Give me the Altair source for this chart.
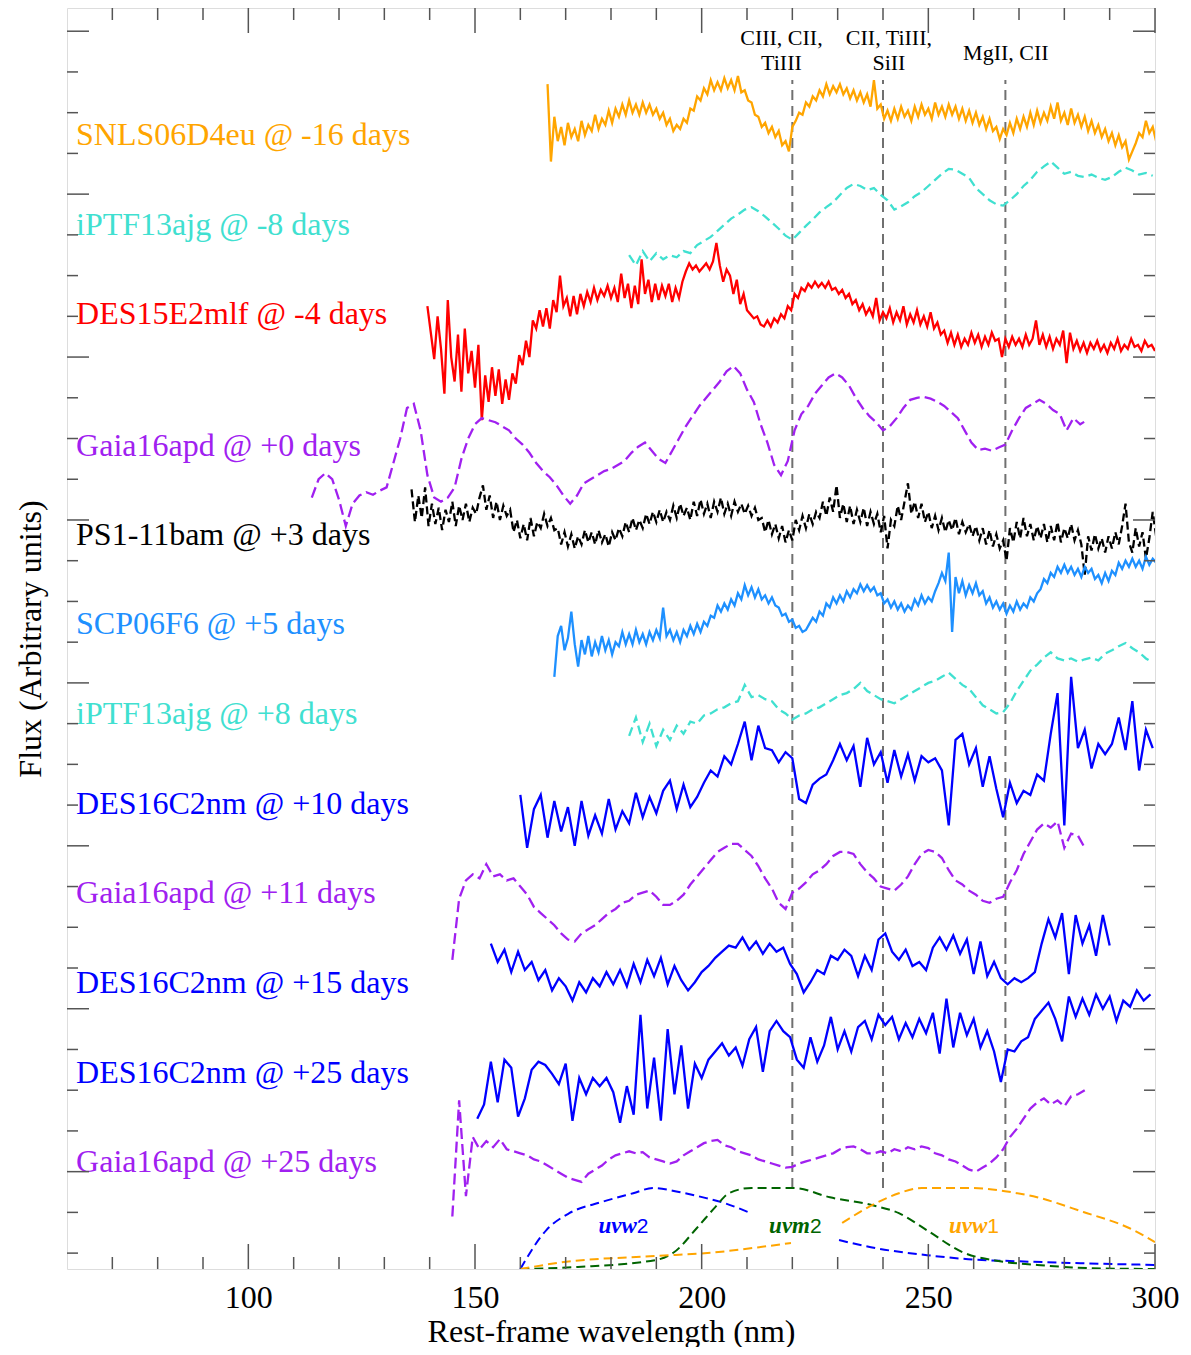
import altair as alt
import pandas as pd

# ---------------- axes ----------------
X_MIN, X_MAX = 60, 300
Y_MIN, Y_MAX = -0.39, 30.57
W, H = 1088, 1261
FONT = "Liberation Serif"

x_tick_labels = [100, 150, 200, 250, 300]
x_minor = [70, 80, 90, 110, 120, 130, 140, 160, 170, 180, 190, 210, 220, 230, 240, 260, 270, 280, 290]
x_major = [100, 150, 200, 250, 300]
y_major = [2, 6, 10, 14, 18, 22, 26, 30]
y_minor = [0, 1, 3, 4, 5, 7, 8, 9, 11, 12, 13, 15, 16, 17, 19, 20, 21, 23, 24, 25, 27, 28, 29]

# ---------------- spectra (flux in arbitrary units, offsets included) ----------------
snls_start, snls_step = 166.0, 0.75
snls_flux = [28.70, 26.80, 27.90, 27.30, 27.65, 27.20, 27.75, 27.40, 27.60, 27.30,
             27.80, 27.45, 27.70, 27.55, 27.95, 27.60, 27.85, 27.70, 28.05, 27.75,
             28.10, 27.90, 28.20, 27.95, 28.30, 28.00, 28.20, 27.95, 28.25, 28.00,
             28.20, 27.95, 28.10, 27.85, 28.00, 27.70, 27.85, 27.55, 27.70, 27.60,
             27.85, 27.75, 28.10, 28.05, 28.40, 28.30, 28.60, 28.45, 28.80, 28.55,
             28.75, 28.55, 28.85, 28.60, 28.80, 28.55, 28.90, 28.50, 28.55, 28.30,
             28.25, 27.95, 27.90, 27.65, 27.75, 27.50, 27.65, 27.40, 27.55, 27.20,
             27.30, 27.05, 27.65, 27.80, 28.00, 27.95, 28.25, 28.15, 28.40, 28.30,
             28.55, 28.40, 28.70, 28.45, 28.65, 28.50, 28.70, 28.45, 28.60, 28.35,
             28.55, 28.30, 28.50, 28.25, 28.45, 28.15, 28.80, 28.10, 28.20, 27.85,
             28.05, 27.80, 28.10, 27.85, 28.15, 27.90, 28.05, 27.80, 28.15, 27.90,
             28.20, 27.95, 28.10, 27.85, 28.25, 27.95, 28.15, 27.90, 28.20, 27.95,
             28.15, 27.85, 28.10, 27.80, 28.05, 27.75, 28.00, 27.70, 27.90, 27.60,
             27.85, 27.55, 27.65, 27.35, 27.60, 27.45, 27.75, 27.50, 27.85, 27.60,
             27.90, 27.65, 28.00, 27.70, 28.05, 27.75, 28.00, 27.80, 28.15, 27.85,
             28.25, 27.80, 28.00, 27.70, 28.10, 27.75, 27.95, 27.65, 27.90, 27.55,
             27.80, 27.50, 27.70, 27.40, 27.60, 27.30, 27.50, 27.20, 27.45, 27.15,
             27.30, 26.85, 27.05, 27.25, 27.50, 27.40, 27.80, 27.50, 27.65, 27.30]

iptf_m8_start, iptf_m8_step = 184.0, 1.5
iptf_m8_flux = [24.50, 24.25, 24.60, 24.35, 24.55, 24.40, 24.50, 24.45, 24.60, 24.55,
                24.75, 24.85, 24.95, 25.10, 25.25, 25.40, 25.50, 25.62, 25.68, 25.58,
                25.45, 25.30, 25.15, 24.98, 24.88, 25.05, 25.22, 25.38, 25.55, 25.68,
                25.80, 25.98, 26.15, 26.25, 26.20, 26.10, 26.15, 25.98, 25.85, 25.62,
                25.70, 25.80, 25.95, 26.05, 26.20, 26.35, 26.50, 26.62, 26.60, 26.50,
                26.40, 26.15, 26.00, 25.85, 25.75, 25.72, 25.85, 26.00, 26.20, 26.35,
                26.55, 26.68, 26.80, 26.65, 26.50, 26.55, 26.45, 26.42, 26.48, 26.40,
                26.35, 26.42, 26.55, 26.65, 26.58, 26.48, 26.52, 26.45]

des15_start, des15_step = 139.5, 0.75
des15_flux = [23.25, 22.60, 21.95, 23.00, 22.20, 21.10, 23.40, 22.00, 21.40, 22.55,
              21.15, 22.70, 21.60, 22.15, 21.25, 22.30, 20.45, 21.55, 20.90, 21.75,
              21.05, 21.70, 20.85, 21.45, 20.95, 21.60, 21.35, 22.05, 21.80, 22.40,
              22.00, 22.90, 22.70, 23.15, 22.75, 23.20, 22.70, 23.40, 23.10, 24.00,
              23.25, 23.45, 23.00, 23.50, 23.05, 23.55, 23.25, 23.60, 23.35, 23.70,
              23.40, 23.65, 23.50, 23.75, 23.45, 23.70, 23.35, 24.05, 23.45, 23.80,
              23.20, 23.75, 23.30, 24.40, 23.55, 23.90, 23.35, 23.80, 23.40, 23.75,
              23.50, 23.80, 23.35, 23.70, 23.45, 23.85, 24.10, 24.30, 24.15, 24.25,
              24.10, 24.20, 24.30, 24.15, 24.35, 24.80, 24.25, 23.85, 24.15, 24.00,
              23.55, 23.90, 23.30, 23.55, 23.15, 23.05, 22.95, 23.00, 22.80, 22.75,
              22.90, 22.75, 22.95, 22.85, 23.05, 22.95, 23.25, 23.15, 23.55, 23.45,
              23.70, 23.62, 23.80, 23.70, 23.85, 23.72, 23.82, 23.70, 23.85, 23.65,
              23.70, 23.55, 23.65, 23.45, 23.55, 23.30, 23.40, 23.15, 23.30, 23.05,
              23.20, 23.00, 23.45, 22.90, 23.10, 22.95, 23.20, 22.85, 23.10, 22.90,
              23.25, 22.80, 23.05, 22.85, 23.15, 22.80, 23.00, 22.75, 23.10, 22.70,
              22.85, 22.55, 22.65, 22.35, 22.60, 22.30, 22.55, 22.25, 22.45, 22.30,
              22.60, 22.35, 22.55, 22.25, 22.50, 22.30, 22.60, 22.40, 22.45, 22.00,
              22.45, 22.25, 22.50, 22.30, 22.45, 22.25, 22.55, 22.30, 22.45, 22.90,
              22.30, 22.55, 22.25, 22.50, 22.20, 22.45, 22.30, 22.65, 21.85, 22.60,
              22.20, 22.40, 22.15, 22.35, 22.10, 22.35, 22.20, 22.40, 22.15, 22.30,
              22.10, 22.35, 22.20, 22.45, 22.15, 22.30, 22.20, 22.45, 22.25, 22.30,
              22.15, 22.40, 22.25, 22.30, 22.15]

gaia0_start, gaia0_step = 114.0, 1.5
gaia0_flux = [18.55, 19.00, 19.15, 19.00, 18.50, 17.85, 18.40, 18.60, 18.68, 18.62,
              18.72, 18.80, 19.40, 20.00, 20.75, 20.85, 20.20, 19.10, 18.55, 18.45,
              18.55, 18.80, 19.50, 20.00, 20.35, 20.50, 20.45, 20.40, 20.30, 20.20,
              20.00, 19.85, 19.65, 19.40, 19.20, 19.05, 18.85, 18.60, 18.40, 18.60,
              18.90, 19.00, 19.10, 19.20, 19.25, 19.35, 19.45, 19.65, 19.80, 19.90,
              19.70, 19.50, 19.40, 19.70, 20.00, 20.30, 20.55, 20.80, 21.00, 21.20,
              21.40, 21.65, 21.78, 21.60, 21.20, 20.90, 20.35, 19.90, 19.35, 19.10,
              19.45, 20.20, 20.60, 20.80, 21.10, 21.30, 21.50, 21.60, 21.50, 21.30,
              21.00, 20.75, 20.55, 20.40, 20.20, 20.30, 20.50, 20.75, 20.95, 21.00,
              21.02, 20.98, 20.90, 20.80, 20.65, 20.50, 20.20, 19.90, 19.72, 19.75,
              19.70, 19.78, 19.85, 20.20, 20.50, 20.75, 20.85, 20.95, 20.85, 20.70,
              20.60, 20.20, 20.50, 20.35, 20.45]

ps1_start, ps1_step = 136.0, 0.75
ps1_flux = [18.75, 17.95, 18.60, 18.05, 18.80, 17.85, 18.40, 17.90, 18.30, 17.75,
            18.25, 17.95, 18.45, 17.85, 18.35, 18.00, 18.40, 17.95, 18.30, 18.15,
            18.55, 18.85, 18.25, 18.60, 18.05, 18.45, 18.00, 18.35, 18.10, 18.25,
            17.70, 18.00, 17.55, 17.90, 17.50, 18.05, 17.60, 17.95, 17.80, 18.15,
            17.85, 18.05, 17.75, 17.80, 17.40, 17.70, 17.35, 17.65, 17.30, 17.60,
            17.40, 17.75, 17.45, 17.70, 17.40, 17.75, 17.45, 17.65, 17.35, 17.70,
            17.50, 17.80, 17.60, 17.95, 17.70, 18.05, 17.75, 18.00, 17.80, 18.15,
            17.90, 18.20, 17.95, 18.25, 17.95, 18.20, 18.00, 18.35, 18.05, 18.40,
            18.10, 18.30, 18.00, 18.45, 18.10, 18.50, 18.15, 18.40, 18.05, 18.45,
            18.20, 18.55, 18.15, 18.40, 18.10, 18.45, 18.20, 18.40, 18.15, 18.35,
            18.10, 18.30, 18.00, 18.05, 17.70, 18.00, 17.65, 17.90, 17.55, 17.85,
            17.45, 17.75, 17.50, 18.00, 17.75, 18.10, 17.80, 18.15, 17.90, 18.20,
            18.05, 18.45, 18.10, 18.55, 18.20, 18.85, 18.05, 18.40, 17.95, 18.35,
            17.90, 18.25, 17.95, 18.30, 17.85, 18.20, 17.90, 18.15, 17.70, 18.10,
            17.30, 18.00, 17.85, 18.35, 18.00, 18.45, 18.90, 18.15, 18.45, 18.05,
            18.40, 17.95, 18.20, 17.80, 18.10, 17.75, 18.05, 17.70, 18.00, 17.75,
            18.05, 17.65, 17.95, 17.70, 17.90, 17.60, 17.85, 17.50, 17.80, 17.40,
            17.75, 17.35, 17.65, 17.30, 17.50, 17.00, 17.80, 17.45, 17.95, 17.55,
            18.05, 17.60, 17.90, 17.50, 17.85, 17.55, 17.90, 17.45, 17.85, 17.50,
            17.95, 17.45, 17.80, 17.55, 17.90, 17.50, 17.75, 17.40, 16.65, 17.60,
            17.25, 17.65, 17.30, 17.55, 17.20, 17.60, 17.30, 17.70, 17.40, 17.85,
            18.40, 17.45, 17.20, 17.80, 17.35, 17.70, 17.05, 17.55, 18.20, 17.60]

scp_start, scp_step = 167.5, 0.75
scp_flux = [14.15, 15.15, 15.40, 14.80, 15.10, 15.75, 14.95, 14.40, 15.05, 14.70,
            15.15, 14.65, 15.00, 14.75, 15.15, 14.80, 15.05, 14.70, 15.00, 14.90,
            15.25, 14.95, 15.20, 14.95, 15.30, 15.00, 15.20, 14.95, 15.25, 15.05,
            15.30, 15.10, 15.85, 15.15, 15.30, 15.05, 15.25, 15.00, 15.30, 15.15,
            15.40, 15.20, 15.45, 15.25, 15.50, 15.40, 15.65, 15.60, 15.90, 15.75,
            15.95, 15.80, 16.05, 15.90, 16.20, 16.05, 16.40, 16.15, 16.35, 16.10,
            16.30, 16.05, 16.15, 15.95, 16.10, 15.90, 15.85, 15.65, 15.70, 15.50,
            15.55, 15.35, 15.40, 15.25, 15.30, 15.45, 15.60, 15.50, 15.75, 15.65,
            15.95, 15.85, 16.10, 15.95, 16.15, 16.00, 16.25, 16.10, 16.30, 16.20,
            16.42, 16.25, 16.40, 16.25, 16.35, 16.15, 16.20, 15.95, 16.05, 15.85,
            16.00, 15.80, 15.95, 15.75, 15.90, 15.80, 16.05, 15.90, 16.15, 15.95,
            16.10, 16.00, 16.25, 16.45, 16.70, 16.50, 17.20, 15.25, 16.60, 16.20,
            16.50, 16.15, 16.40, 16.20, 16.45, 16.15, 16.25, 15.95, 16.10, 15.85,
            16.00, 15.80, 15.95, 15.70, 15.90, 15.75, 16.00, 15.80, 15.95, 15.85,
            16.10, 16.00, 16.20, 16.30, 16.55, 16.45, 16.70, 16.60, 16.85, 16.70,
            16.90, 16.70, 16.85, 16.65, 16.80, 16.60, 16.85, 16.70, 16.80, 16.55,
            16.65, 16.45, 16.70, 16.50, 16.75, 16.65, 16.95, 16.80, 17.00, 16.85,
            17.05, 16.85, 17.00, 16.80, 17.10, 16.90, 17.05, 16.95]

iptf_p8_start, iptf_p8_step = 184.0, 1.5
iptf_p8_flux = [12.70, 13.15, 12.55, 13.00, 12.45, 12.85, 12.60, 12.95, 12.75, 13.05,
                13.00, 13.20, 13.25, 13.35, 13.40, 13.50, 13.55, 13.95, 13.65, 13.70,
                13.60, 13.55, 13.35, 13.25, 13.10, 13.20, 13.25, 13.35, 13.40, 13.50,
                13.60, 13.70, 13.75, 13.85, 14.00, 13.80, 13.70, 13.60, 13.55, 13.50,
                13.60, 13.70, 13.80, 13.90, 14.00, 14.05, 14.15, 14.25, 14.10, 13.95,
                13.85, 13.65, 13.45, 13.35, 13.25, 13.28, 13.50, 13.80, 14.05, 14.30,
                14.45, 14.62, 14.75, 14.60, 14.55, 14.60, 14.52, 14.58, 14.62, 14.55,
                14.72, 14.80, 14.90, 14.98, 14.85, 14.75, 14.60, 14.50]

des10_start, des10_step = 160.0, 1.5
des10_flux = [11.25, 9.95, 10.90, 11.25, 10.20, 11.10, 10.35, 10.95, 10.00, 11.10,
              10.25, 10.75, 10.30, 11.15, 10.40, 10.85, 10.55, 11.30, 10.70, 11.20,
              10.80, 11.35, 11.60, 10.90, 11.50, 10.95, 11.20, 11.55, 11.85, 11.70,
              12.20, 12.00, 12.50, 13.05, 12.10, 12.95, 12.40, 12.35, 12.05, 12.30,
              12.15, 11.15, 11.05, 11.50, 11.65, 11.75, 12.10, 12.50, 12.10, 12.45,
              11.45, 12.65, 12.00, 12.30, 11.55, 12.35, 11.70, 12.25, 11.60, 12.20,
              12.05, 12.15, 11.85, 10.50, 12.60, 12.75, 12.00, 12.40, 11.45, 12.20,
              11.40, 10.70, 11.55, 11.05, 11.35, 11.25, 11.75, 11.60, 12.75, 13.75,
              10.50, 14.15, 12.40, 12.85, 11.90, 12.50, 12.25, 12.50, 13.15, 12.35,
              13.55, 11.85, 12.85, 12.40]

gaia11_start, gaia11_step = 145.0, 1.5
gaia11_flux = [7.20, 8.70, 9.15, 9.30, 9.20, 9.55, 9.25, 9.30, 9.15, 9.20,
               9.00, 8.80, 8.50, 8.35, 8.20, 8.05, 7.85, 7.70, 7.65, 7.85,
               7.95, 8.05, 8.20, 8.35, 8.45, 8.60, 8.65, 8.80, 8.85, 8.90,
               8.75, 8.55, 8.55, 8.65, 8.80, 9.05, 9.25, 9.45, 9.65, 9.85,
               9.95, 10.05, 10.05, 9.90, 9.75, 9.50, 9.20, 8.95, 8.60, 8.45,
               8.85, 8.95, 9.10, 9.30, 9.40, 9.55, 9.75, 9.85, 9.85, 9.80,
               9.55, 9.35, 9.20, 9.00, 8.95, 8.90, 9.05, 9.25, 9.55, 9.80,
               9.90, 9.85, 9.70, 9.40, 9.15, 9.05, 8.90, 8.80, 8.65, 8.60,
               8.70, 8.75, 9.10, 9.40, 9.80, 10.10, 10.40, 10.55, 10.45, 10.60,
               9.95, 10.30, 10.25, 9.95]

des15d_start, des15d_step = 153.5, 1.5
des15d_flux = [7.60, 7.15, 7.45, 6.90, 7.40, 6.95, 7.15, 6.70, 6.95, 6.45,
               6.75, 6.55, 6.20, 6.65, 6.40, 6.75, 6.55, 6.90, 6.60, 6.95,
               6.55, 7.10, 6.65, 7.20, 6.80, 7.25, 6.60, 7.05, 6.70, 6.45,
               6.65, 6.90, 7.05, 7.25, 7.40, 7.55, 7.50, 7.75, 7.45, 7.65,
               7.35, 7.60, 7.40, 7.50, 7.10, 6.85, 6.40, 6.65, 6.95, 6.85,
               7.30, 7.20, 7.45, 7.30, 6.80, 7.30, 6.95, 7.70, 7.85, 7.40,
               7.20, 7.45, 7.05, 7.15, 6.95, 7.50, 7.75, 7.45, 7.80, 7.35,
               7.70, 6.85, 7.65, 6.80, 7.15, 6.75, 6.60, 6.75, 6.65, 6.75,
               6.90, 7.60, 8.20, 7.75, 8.35, 6.85, 8.30, 7.60, 8.05, 7.30,
               8.30, 7.55]

des25_start, des25_step = 150.5, 1.5
des25_flux = [3.30, 3.65, 4.70, 3.70, 4.75, 4.55, 3.35, 3.80, 4.50, 4.70,
              4.62, 4.40, 4.15, 4.65, 3.25, 4.30, 3.90, 4.30, 4.10, 4.30,
              3.95, 3.20, 4.10, 3.40, 5.85, 3.55, 4.80, 3.25, 5.50, 3.90,
              5.10, 3.55, 4.65, 4.30, 4.75, 4.95, 5.15, 4.85, 5.05, 4.60,
              5.25, 5.55, 4.45, 5.45, 5.70, 5.45, 5.30, 4.75, 4.55, 5.30,
              4.70, 5.10, 5.80, 5.00, 5.45, 4.95, 5.55, 5.70, 5.25, 5.85,
              5.60, 5.80, 5.25, 5.65, 5.30, 5.75, 5.40, 5.90, 4.90, 6.25,
              5.05, 5.90, 5.35, 5.75, 5.05, 5.45, 4.95, 4.20, 5.00, 4.95,
              5.20, 5.30, 5.75, 5.95, 6.15, 5.75, 5.20, 6.30, 5.80, 6.25,
              5.85, 6.35, 6.00, 6.30, 5.70, 6.20, 6.05, 6.45, 6.20, 6.35]

gaia25_start, gaia25_step = 145.0, 1.5
gaia25_flux = [0.90, 3.75, 1.40, 2.85, 2.55, 2.75, 2.60, 2.80, 2.55, 2.50,
               2.45, 2.40, 2.30, 2.25, 2.15, 2.05, 1.95, 1.85, 1.80, 1.75,
               1.95, 2.05, 2.15, 2.30, 2.40, 2.45, 2.50, 2.45, 2.48, 2.35,
               2.30, 2.25, 2.20, 2.25, 2.40, 2.50, 2.60, 2.70, 2.75, 2.78,
               2.65, 2.60, 2.50, 2.45, 2.40, 2.30, 2.25, 2.20, 2.15, 2.10,
               2.12, 2.20, 2.25, 2.30, 2.35, 2.40, 2.45, 2.55, 2.60, 2.62,
               2.55, 2.45, 2.45, 2.50, 2.45, 2.55, 2.50, 2.60, 2.55, 2.62,
               2.58, 2.45, 2.40, 2.30, 2.25, 2.15, 2.05, 2.00, 2.10, 2.20,
               2.35, 2.55, 2.85, 3.05, 3.30, 3.55, 3.70, 3.80, 3.65, 3.75,
               3.60, 3.85, 3.90, 4.00]

# labels (text, colour, baseline level)
label_texts = ["SNLS06D4eu @ -16 days", "iPTF13ajg @ -8 days", "DES15E2mlf @ -4 days",
               "Gaia16apd @ +0 days", "PS1-11bam @ +3 days", "SCP06F6 @ +5 days",
               "iPTF13ajg @ +8 days", "DES16C2nm @ +10 days", "Gaia16apd @ +11 days",
               "DES16C2nm @ +15 days", "DES16C2nm @ +25 days", "Gaia16apd @ +25 days"]
label_colors = ["#FFA500", "#40E0D0", "#FF0000", "#A020F0", "#000000", "#1E90FF",
                "#40E0D0", "#0000FF", "#A020F0", "#0000FF", "#0000FF", "#A020F0"]
label_y = [27.20, 24.99, 22.81, 19.57, 17.38, 15.20, 12.99, 10.78, 8.59, 6.38, 4.17, 1.99]
label_x = 62.0

# line identifications
line_wl = [220, 240, 267]
line_top, line_bottom = 28.80, 1.60
ann_text = ["CIII, CII,\nTiIII", "CII, TiIII,\nSiII", "MgII, CII"]
ann_x = [217.6, 241.3, 267.1]
ann_y = [29.65, 29.65, 29.29]

# Swift filter curves (segment index splits the drawn curve)
uvw2_wl = [160, 165.7, 170.8, 177.8, 184.9, 189.3, 195, 201, 205, 210.2,
           230.3, 238.5, 249.7, 258.8, 269.8, 284.2, 300]
uvw2_f = [-0.39, 0.56, 0.98, 1.25, 1.47, 1.60, 1.50, 1.35, 1.23, 1.01,
          0.32, 0.12, -0.05, -0.15, -0.20, -0.25, -0.29]
uvw2_seg = [0] * 10 + [1] * 7
uvm2_wl = [160, 172.7, 189.9, 193.9, 198.9, 203, 206, 211, 220.3, 228.3, 237.5,
           243.5, 249.7, 257.6, 265.8, 274, 286.1, 300]
uvm2_f = [-0.39, -0.34, -0.17, 0.02, 0.61, 1.13, 1.47, 1.60, 1.60, 1.37, 1.18,
          0.98, 0.56, 0.02, -0.20, -0.29, -0.37, -0.39]
uvm2_seg = [0] * 18
uvw1_wl = [160, 169.6, 190, 203, 213, 219.7,
           231, 238.5, 243.5, 248.6, 258.8, 266.9, 274, 284.2, 294.4, 300]
uvw1_f = [-0.39, -0.22, -0.07, 0.02, 0.15, 0.25,
          0.74, 1.23, 1.47, 1.60, 1.60, 1.52, 1.37, 1.01, 0.61, 0.27]
uvw1_seg = [0] * 6 + [1] * 10

filt_names = ["uvw", "uvm", "uvw"]
filt_nums = ["2", "2", "1"]
filt_x = [185.7, 223.9, 263.0]
filt_y = 0.49
filt_colors = ["#0000FF", "#006400", "#FFA500"]

# ---------------- build chart ----------------
xs = alt.Scale(domain=[X_MIN, X_MAX], nice=False, zero=False)
ys = alt.Scale(domain=[Y_MIN, Y_MAX], nice=False, zero=False)

x_axis = alt.Axis(values=x_tick_labels, ticks=False, domain=False, grid=False,
                  labelFont=FONT, labelFontSize=32, labelColor="black", labelPadding=13,
                  labelOverlap=False, labelFlush=False,
                  title="Rest-frame wavelength (nm)", titleFont=FONT, titleFontSize=32,
                  titleFontWeight="normal", titleColor="black", titlePadding=3)
y_axis = alt.Axis(labels=False, ticks=False, domain=False, grid=False,
                  title="Flux (Arbitrary units)", titleFont=FONT, titleFontSize=32,
                  titleFontWeight="normal", titleColor="black", titlePadding=20)

X = lambda f: alt.X(f, scale=xs, axis=x_axis)
Y = lambda f: alt.Y(f, scale=ys, axis=y_axis)


def spec_df(start, step, flux):
    return pd.DataFrame({"wl": [start + step * i for i in range(len(flux))], "flux": flux})


spectra = [
    (snls_start, snls_step, snls_flux, "#FFA500", None),
    (iptf_m8_start, iptf_m8_step, iptf_m8_flux, "#40E0D0", [9, 5]),
    (des15_start, des15_step, des15_flux, "#FF0000", None),
    (gaia0_start, gaia0_step, gaia0_flux, "#A020F0", [11, 5]),
    (ps1_start, ps1_step, ps1_flux, "#000000", [8, 4]),
    (scp_start, scp_step, scp_flux, "#1E90FF", None),
    (iptf_p8_start, iptf_p8_step, iptf_p8_flux, "#40E0D0", [9, 5]),
    (des10_start, des10_step, des10_flux, "#0000FF", None),
    (gaia11_start, gaia11_step, gaia11_flux, "#A020F0", [11, 5]),
    (des15d_start, des15d_step, des15d_flux, "#0000FF", None),
    (des25_start, des25_step, des25_flux, "#0000FF", None),
    (gaia25_start, gaia25_step, gaia25_flux, "#A020F0", [11, 5]),
]

layers = []

# vertical identification lines
vl_df = pd.DataFrame({"wl": line_wl, "top": [line_top] * 3, "bot": [line_bottom] * 3})
layers.append(alt.Chart(vl_df).mark_rule(color="#707070", strokeWidth=2, strokeDash=[10, 6]).encode(
    x=X("wl:Q"), y=Y("bot:Q"), y2="top:Q"))

for start, step, flux, col, dash in spectra:
    kw = dict(color=col, strokeWidth=2.3, clip=True)
    if dash:
        kw["strokeDash"] = dash
        kw["strokeCap"] = "butt"
    layers.append(alt.Chart(spec_df(start, step, flux)).mark_line(**kw).encode(
        x=X("wl:Q"), y=Y("flux:Q")))

for wl, fl, seg, col in [(uvw2_wl, uvw2_f, uvw2_seg, "#0000FF"),
                         (uvm2_wl, uvm2_f, uvm2_seg, "#006400"),
                         (uvw1_wl, uvw1_f, uvw1_seg, "#FFA500")]:
    d = pd.DataFrame({"wl": wl, "flux": fl, "seg": seg})
    layers.append(alt.Chart(d).mark_line(color=col, strokeWidth=2, strokeDash=[9, 5],
                                         interpolate="monotone", clip=True).encode(
        x=X("wl:Q"), y=Y("flux:Q"), detail="seg:N"))

# supernova labels
lab_df = pd.DataFrame({"t": label_texts, "c": label_colors, "y": label_y, "x": [label_x] * len(label_y)})
layers.append(alt.Chart(lab_df).mark_text(align="left", baseline="alphabetic", font=FONT, fontSize=32).encode(
    x=X("x:Q"), y=Y("y:Q"), text="t:N", color=alt.Color("c:N", scale=None)))

# line identification annotations
ann_df = pd.DataFrame({"t": ann_text, "x": ann_x, "y": ann_y})
layers.append(alt.Chart(ann_df).mark_text(align="center", baseline="alphabetic", font=FONT, fontSize=22,
                                          lineBreak="\n", lineHeight=25, color="black").encode(
    x=X("x:Q"), y=Y("y:Q"), text="t:N"))

# filter labels
fl_df = pd.DataFrame({"n": filt_names, "d": filt_nums, "x": filt_x, "y": [filt_y] * 3, "c": filt_colors})
layers.append(alt.Chart(fl_df).mark_text(align="right", baseline="alphabetic", font=FONT, fontSize=23,
                                         fontStyle="italic", fontWeight="bold").encode(
    x=X("x:Q"), y=Y("y:Q"), text="n:N", color=alt.Color("c:N", scale=None)))
layers.append(alt.Chart(fl_df).mark_text(align="left", baseline="alphabetic", font="Liberation Sans",
                                         fontSize=21).encode(
    x=X("x:Q"), y=Y("y:Q"), text="d:N", color=alt.Color("c:N", scale=None)))

# inward ticks
TICK_COL = "#555555"
for vals, L in [(x_minor, 12), (x_major, 25)]:
    d = pd.DataFrame({"v": vals})
    layers.append(alt.Chart(d).mark_rule(color=TICK_COL, strokeWidth=1.5).encode(
        x=X("v:Q"), y=alt.value(H), y2=alt.value(H - L)))
    layers.append(alt.Chart(d).mark_rule(color=TICK_COL, strokeWidth=1.5).encode(
        x=X("v:Q"), y=alt.value(0), y2=alt.value(L)))
for vals, L in [(y_minor, 11), (y_major, 22)]:
    d = pd.DataFrame({"v": vals})
    layers.append(alt.Chart(d).mark_rule(color=TICK_COL, strokeWidth=1.5).encode(
        y=Y("v:Q"), x=alt.value(0), x2=alt.value(L)))
    layers.append(alt.Chart(d).mark_rule(color=TICK_COL, strokeWidth=1.5).encode(
        y=Y("v:Q"), x=alt.value(W), x2=alt.value(W - L)))

chart = alt.layer(*layers).properties(
    width=W, height=H,
    autosize=alt.AutoSizeParams(type="none"),
    padding={"left": 59, "top": 0, "right": 28, "bottom": 78},
).configure_view(stroke="#222222", strokeWidth=1.5).configure(background="white")

chart.save("out.html", embed_options={"renderer": "svg", "actions": False})
